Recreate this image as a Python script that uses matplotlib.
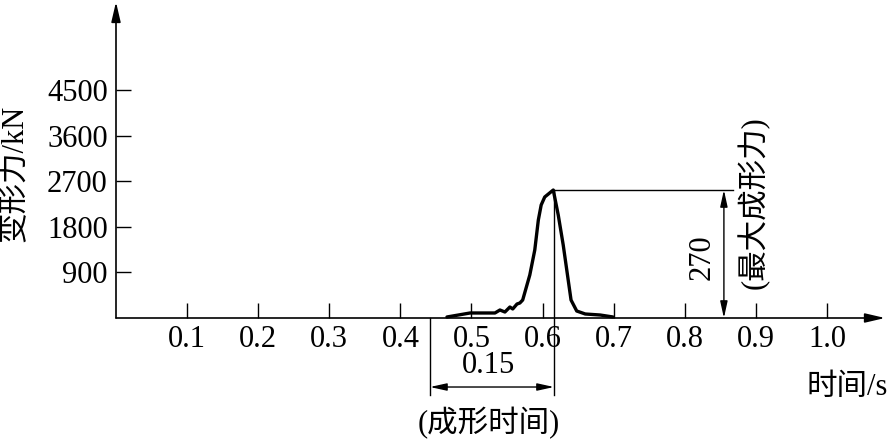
import matplotlib
matplotlib.use("Agg")
import matplotlib.pyplot as plt

plt.rcParams["font.family"] = ["Liberation Serif", "Noto Sans CJK SC"]
plt.rcParams["font.size"] = 22

# 变形力曲线 (time s, force kN)
time_s = [0.4655, 0.498, 0.533, 0.540, 0.547, 0.554, 0.558, 0.564, 0.568, 0.572,
          0.582, 0.589, 0.594, 0.598, 0.603, 0.615, 0.622, 0.629, 0.634, 0.640,
          0.648, 0.660, 0.681, 0.699]
force_kn = [20, 99, 99, 158, 118, 217, 178, 276, 296, 355,
            849, 1342, 1934, 2230, 2388, 2526, 2033, 1441, 947, 355,
            138, 79, 59, 20]

x_ticks = [0.1, 0.2, 0.3, 0.4, 0.5, 0.6, 0.7, 0.8, 0.9, 1.0]
x_labels = ["0.1", "0.2", "0.3", "0.4", "0.5", "0.6", "0.7", "0.8", "0.9", "1.0"]
y_ticks = [900, 1800, 2700, 3600, 4500]
y_labels = ["900", "1800", "2700", "3600", "4500"]

form_start = 0.4416
form_end = 0.616
peak_force = 2526
dim_x = 0.855

fig = plt.figure(figsize=(8.88, 4.41), dpi=100)
ax = fig.add_axes([116 / 888, 123 / 441, 772 / 888, 318 / 441])
ax.set_xlim(0, 1.0858)
ax.set_ylim(0, 6276)
for s in ax.spines.values():
    s.set_visible(False)

ax.set_xticks(x_ticks, x_labels)
ax.set_yticks(y_ticks, y_labels)
ax.tick_params(axis="both", direction="in", length=11, width=1.0, colors="black")
ax.tick_params(axis="x", pad=5)
ax.tick_params(axis="y", pad=6)

axis_arrow = dict(arrowstyle="-|>,head_length=1.2,head_width=0.28", lw=1.2, color="black",
                  shrinkA=0, shrinkB=0, mutation_scale=10)
ax.annotate("", xy=(1.0816, 0), xytext=(0, 0), arrowprops=axis_arrow, annotation_clip=False)
ax.annotate("", xy=(0, 6237), xytext=(0, 0), arrowprops=axis_arrow, annotation_clip=False)

ax.plot(time_s, force_kn, color="black", lw=2.4, solid_capstyle="round", clip_on=False)

# 最大成形力 dimension
ax.plot([form_end, 0.868], [peak_force, peak_force], color="black", lw=1.0, clip_on=False)
dim_arrow = dict(arrowstyle="<|-|>,head_length=1.0,head_width=0.22", lw=1.0, color="black",
                 shrinkA=0, shrinkB=0, mutation_scale=10)
ax.annotate("", xy=(dim_x, peak_force), xytext=(dim_x, 0), arrowprops=dim_arrow,
            annotation_clip=False)
ax.text(0.824, 1204, "270", rotation=90, ha="center", va="center")
ax.text(0.897, 2270, "(最大成形力)", rotation=90, ha="center", va="center")

# 成形时间 dimension
ax.plot([form_end, form_end], [peak_force, -1520], color="black", lw=1.0, clip_on=False)
ax.plot([form_start, form_start], [0, -1520], color="black", lw=1.0, clip_on=False)
ax.annotate("", xy=(form_start, -1362), xytext=(form_end, -1362), arrowprops=dim_arrow,
            annotation_clip=False)
ax.text(0.524, -928, "0.15", ha="center", va="center")
ax.text(0.5245, -2072, "(成形时间)", ha="center", va="center")

ax.text(1.086, -1362, "时间/s", ha="right", va="center")
ax.text(-0.142, 2862, "变形力/kN", rotation=90, ha="center", va="center")

fig.savefig("out.png", dpi=100)
